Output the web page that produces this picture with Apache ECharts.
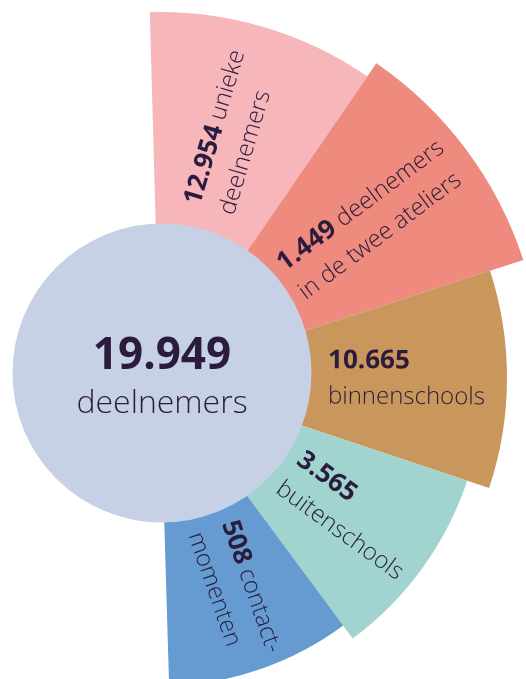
<!DOCTYPE html>
<html>
<head>
<meta charset="utf-8">
<script src="https://cdn.jsdelivr.net/npm/echarts@6/dist/echarts.min.js"></script>
<style>
  html, body { margin: 0; padding: 0; background: #fff; }
  #chart { width: 526px; height: 679px; }
</style>
</head>
<body>
<div id="chart"></div>
<script>
// waarden uit de infographic
var totalValue = 19949
var totalLabel = 'deelnemers'

var petalValues = [12954, 1449, 10665, 3565, 508]
var petalLine1 = ['unieke', 'deelnemers', '', '', 'contact-']
var petalLine2 = ['deelnemers', 'in de twee ateliers', 'binnenschools', 'buitenschools', 'momenten']

// opmaak van de bloemblaadjes
var petalColors = ['#f7b6ba', '#ee8a7e', '#c9975b', '#a2d4cf', '#669bd2']
var petalOuter = [366, 382, 347, 324, 308]
var petalEdges = [91.6, 55.5, 18, -18.5, -53.5, -88.3]

var textColor = '#2b1c3e'
var fontFamily = '"Open Sans", "Noto Sans", sans-serif'

function fmt(v) {
  return String(v).replace(/\B(?=(\d{3})+(?!\d))/g, '.')
}

var chart = echarts.init(document.getElementById('chart'), null, { renderer: 'canvas' })

var series = petalValues.map(function (v, i) {
  return {
    type: 'pie',
    center: [160, 378],
    radius: [140, petalOuter[i]],
    startAngle: petalEdges[i],
    endAngle: petalEdges[i + 1],
    clockwise: true,
    silent: true,
    animation: false,
    emphasis: { disabled: true },
    labelLine: { show: false },
    label: {
      show: true,
      position: 'inside',
      rotate: 'radial',
      color: textColor,
      fontFamily: fontFamily,
      formatter: function () {
        var first = '{num|' + fmt(v) + '}'
        if (petalLine1[i]) first += '{txt| ' + petalLine1[i] + '}'
        return first + '\n{txt|' + petalLine2[i] + '}'
      },
      rich: {
        num: {
          fontSize: 26, fontWeight: 700, color: textColor,
          fontFamily: fontFamily, lineHeight: 36, align: 'left'
        },
        txt: {
          fontSize: 24, fontWeight: 300, color: textColor,
          fontFamily: fontFamily, lineHeight: 36, align: 'left'
        }
      }
    },
    itemStyle: { color: petalColors[i], borderWidth: 0 },
    data: [{ name: petalLine2[i], value: v }]
  }
})

// middelste cirkel met het totaal
series.push({
  type: 'pie',
  center: [162, 373],
  radius: [0, 149.5],
  silent: true,
  animation: false,
  emphasis: { disabled: true },
  labelLine: { show: false },
  label: {
    show: true,
    position: 'center',
    padding: [14, 0, 0, 0],
    formatter: function () {
      return '{num|' + fmt(totalValue) + '}\n{txt|' + totalLabel + '}'
    },
    rich: {
      num: { fontSize: 44, fontWeight: 700, color: textColor, fontFamily: fontFamily, lineHeight: 48 },
      txt: { fontSize: 32, fontWeight: 300, color: textColor, fontFamily: fontFamily, lineHeight: 48 }
    }
  },
  itemStyle: { color: '#c6d1e5' },
  data: [{ name: totalLabel, value: totalValue }]
})

chart.setOption({
  backgroundColor: '#ffffff',
  animation: false,
  series: series
})
</script>
</body>
</html>
